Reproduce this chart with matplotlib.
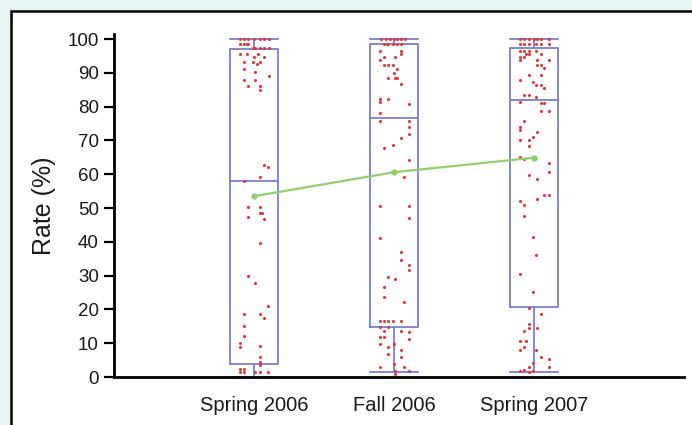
import numpy as np
import matplotlib
matplotlib.use("Agg")
import matplotlib.pyplot as plt
from matplotlib.patches import Rectangle

plt.rcParams['font.family'] = ['Liberation Sans', 'DejaVu Sans']

# --------------------------
# Data
# --------------------------
terms = ['Spring 2006', 'Fall 2006', 'Spring 2007']
whis_lo = [0.0, 1.6, 1.6]
q1 = [3.8, 14.9, 20.6]
median = [58.0, 76.7, 82.0]
q3 = [97.2, 98.4, 97.4]
whis_hi = [100.0, 100.0, 100.0]
means = [53.5, 60.6, 64.9]

# individual student rates (y) and their horizontal jitter (dx, category units)
spring06_y = [100, 100, 100, 100, 100, 100, 100, 98.4, 98.4, 98.4, 98.4,
              97.3, 97.3, 97.3, 97.3, 97.3, 95.7, 95.7, 95.7, 94.7, 94.7,
              93.2, 93.2, 93.2, 92.5, 91, 90.2, 89, 87.8, 87.8, 86.1, 86.1,
              84.8, 62.6, 62, 59.2, 58, 50.3, 50.3, 48.4, 48.4, 47.2, 46.7,
              39.6, 30, 27.8, 21.1, 18.6, 18.6, 17.4, 15, 12, 10, 9, 9.3,
              5.8, 4.3, 3.6, 2.4, 2.4, 1.4, 1.4, 1.4, 1.4, 1.4]
spring06_dx = [-0.1, -0.07, -0.04, 0.0, 0.045, 0.07, 0.105, -0.1, -0.07, -0.05, -0.04,
               -0.01, 0.01, 0.045, 0.07, 0.105, -0.1, -0.05, 0.03, 0.0, 0.07,
               -0.07, -0.01, 0.045, 0.02, -0.07, 0.01, 0.105, -0.07, 0.01, -0.04, 0.045,
               0.045, 0.07, 0.1, 0.04, -0.07, -0.04, 0.04, 0.04, 0.06, -0.04, 0.07,
               0.04, -0.04, 0.01, 0.1, -0.07, 0.04, 0.07, -0.07, -0.07, -0.1, -0.1, 0.04,
               0.04, 0.04, 0.04, -0.1, -0.07, -0.1, -0.07, 0.01, 0.04, 0.1]

fall06_y = [100, 100, 100, 100, 100, 100, 100, 98.5, 98.5, 98.5, 98.5, 98.5, 98.5,
            96.6, 96.6, 95.7, 94.7, 94.7, 93.7, 92.4, 92.4, 92.4, 91, 90,
            88.5, 88.5, 88.5, 86.8, 82.3, 82.3, 81.4, 80.9, 78.1, 75.9, 75.9,
            74, 72, 70.7, 68.7, 67.8, 64.1, 59.2, 50.5, 50.5, 47, 41, 37.1,
            34.6, 33.1, 31.7, 29.7, 29, 26.5, 23.8, 22.3, 16.5, 16.5, 16.5,
            16.5, 16.5, 14.9, 14.9, 13.7, 13.7, 13.2, 11.7, 11.7, 11.2, 9.8,
            9.8, 8.8, 8.1, 6.8, 5.8, 3.8, 2.9, 2.9, 1.9, 1.9, 0.9]
fall06_dx = [-0.09, -0.06, -0.03, 0.0, 0.02, 0.05, 0.08, -0.07, -0.05, -0.04, -0.01, 0.02, 0.05,
             -0.1, 0.05, 0.05, -0.07, 0.01, -0.1, -0.07, -0.04, -0.01, 0.02, 0.0,
             -0.04, 0.01, 0.02, 0.05, -0.1, -0.04, -0.1, 0.105, -0.1, -0.1, 0.105,
             0.105, 0.105, 0.05, -0.01, -0.07, 0.105, 0.07, -0.1, 0.105, 0.105, -0.1, 0.05,
             0.05, 0.105, 0.105, -0.04, 0.01, -0.07, -0.07, 0.07, -0.1, -0.07, -0.04,
             -0.01, 0.05, -0.1, -0.04, -0.07, 0.05, 0.105, -0.1, -0.07, 0.105, -0.1,
             0.0, -0.04, 0.05, -0.04, 0.05, 0.0, -0.1, 0.07, 0.01, 0.105, 0.01]

spring07_y = [100, 100, 100, 100, 100, 100, 100, 98.5, 98.5, 98.5, 98.5, 98.5, 98.5,
              96.6, 96.6, 96.6, 96.6, 95.7, 95.7, 95.7, 94.7, 94.7, 93.7, 93.7, 93.7,
              92.2, 92.2, 91.4, 89.3, 89.3, 88, 87.3, 86.3, 86.3, 85.5, 83.5, 83.5,
              82.8, 81.4, 81, 81, 78.7, 78.7, 75.9, 74, 73, 72.5, 71, 70, 70, 68.5,
              65.1, 64.6, 63.4, 60.7, 59.9, 58.7, 53.8, 53.8, 52.8, 52, 50.8, 47.7,
              41.5, 36.1, 30.5, 25.1, 20.4, 18.6, 15.7, 14.4, 14.4, 13.7, 10.7, 10.7,
              8.8, 8.1, 8.1, 5.8, 5.3, 4, 2.9, 2.9, 2.2, 1.7, 1.7, 1.4]
spring07_dx = [-0.1, -0.07, -0.04, 0.0, 0.02, 0.05, 0.105, -0.1, -0.07, -0.04, 0.01, 0.05, 0.105,
               -0.1, -0.07, -0.04, 0.01, -0.06, -0.04, 0.05, -0.1, -0.07, -0.1, 0.02, 0.105,
               0.02, 0.05, 0.07, -0.04, 0.05, -0.1, -0.01, 0.01, 0.05, 0.07, -0.07, -0.04,
               0.01, -0.1, 0.05, 0.07, 0.05, 0.105, -0.07, -0.1, -0.1, 0.02, -0.01, -0.1, -0.04, -0.04,
               -0.1, -0.07, 0.105, 0.105, -0.04, 0.02, 0.07, 0.105, 0.02, -0.1, -0.07, -0.07,
               -0.01, 0.01, -0.1, -0.01, -0.04, 0.05, -0.04, -0.04, 0.02, -0.07, -0.1, -0.06,
               -0.07, -0.1, 0.01, 0.05, 0.105, -0.01, -0.04, 0.105, -0.07, -0.1, -0.01, -0.04]

# --------------------------
# Figure
# --------------------------
W, H = 692, 425
fig = plt.figure(figsize=(W / 100, H / 100), dpi=100)
fig.patch.set_facecolor('#e6f4f4')
fig.patches.append(Rectangle((11 / W, -0.1), 1.2, 1 - 11 / H + 0.1,
                             transform=fig.transFigure, facecolor='white',
                             edgecolor='black', linewidth=1.8, zorder=-10))

ax = fig.add_axes([114 / W, 48 / H, 570 / W, 343 / H])
ax.set_facecolor('none')
ax.set_zorder(1)

box_color = '#7b7fd2'
stats = []
for i in range(len(terms)):
    stats.append(dict(med=median[i], q1=q1[i], q3=q3[i],
                      whislo=whis_lo[i], whishi=whis_hi[i], fliers=[]))
line_kw = dict(color=box_color, linewidth=1.3)
ax.bxp(stats, positions=[1, 2, 3], widths=0.34, capwidths=0.34,
       showfliers=False, boxprops=line_kw, whiskerprops=line_kw,
       capprops=line_kw, medianprops=line_kw, manage_ticks=False, zorder=2)

for pos, ys, dxs in [(1, spring06_y, spring06_dx),
                     (2, fall06_y, fall06_dx),
                     (3, spring07_y, spring07_dx)]:
    ax.scatter(pos + np.array(dxs), ys, s=5, color='#e0393b', linewidths=0, zorder=3)

ax.plot([1, 2, 3], means, color='#8fd06a', linewidth=1.6, marker='o',
        markersize=3.5, zorder=4)

ax.set_xlim(0, 4.07)
ax.set_ylim(0, 101.5)
ax.set_yticks(range(0, 101, 10))
ax.set_xticks([1, 2, 3])
ax.set_xticklabels(terms)

for side in ['top', 'right']:
    ax.spines[side].set_visible(False)
for side in ['left', 'bottom']:
    ax.spines[side].set_linewidth(2)
    ax.spines[side].set_zorder(5)

ax.tick_params(axis='y', length=7, width=1.6, pad=4, labelsize=13.5,
               direction='out', labelcolor='#1a1a1a')
ax.tick_params(axis='x', length=0, pad=14, labelsize=14.5, labelcolor='#1a1a1a')
ax.set_ylabel('Rate (%)', fontsize=18, color='#1a1a1a')
ax.yaxis.set_label_coords(-0.101, 0.5)

fig.savefig('out.png', dpi=100, facecolor=fig.get_facecolor())
